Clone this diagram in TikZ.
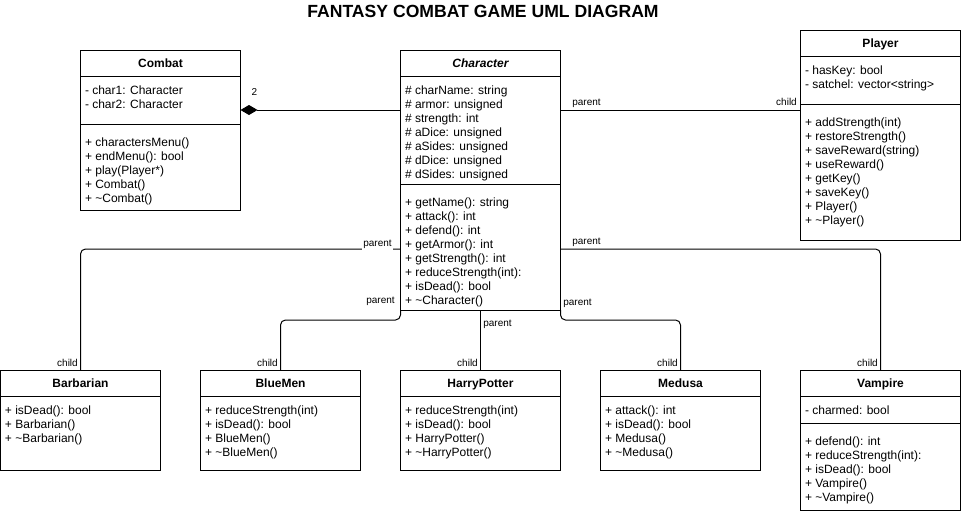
\documentclass[tikz,border=0pt]{standalone}
\usepackage{fontspec}
\setmainfont{Liberation Sans}
\usetikzlibrary{arrows.meta}
\newcommand\UMLsep[2]{\draw ([yshift=-#2pt]#1.north west) -- ([yshift=-#2pt]#1.north east);}
\begin{document}
\begin{tikzpicture}[x=1pt,y=-1pt,line width=1pt,
  box/.style={draw, anchor=north west, inner sep=0pt, outer sep=0pt, minimum width=160pt},
  txt/.style={anchor=base west, inner sep=0pt, font=\fontsize{12}{14}\selectfont},
  hdr/.style={anchor=base, inner sep=0pt, font=\fontsize{12}{14}\selectfont\bfseries},
  lbl/.style={anchor=base, inner sep=1pt, font=\fontsize{10}{12}\selectfont},
  edge/.style={draw, rounded corners=5pt}]
\useasboundingbox (-0.5,0) rectangle (960.5,514);

\node[anchor=base, inner sep=0pt, font=\fontsize{17.6}{20}\selectfont\bfseries] (title) at (482.5,17) {FANTASY COMBAT GAME UML DIAGRAM};

% Combat
\node[box, minimum height=160pt] (combat) at (80,50) {};
\UMLsep{combat}{26}\UMLsep{combat}{74}
\node[hdr] (combatT) at (160,67.3) {Combat};
\foreach \t [count=\i from 0] in {- char1: Character, - char2: Character}
  \node[txt] at (84,{94.3+14*\i}) {\t};
\foreach \t [count=\i from 0] in {+ charactersMenu(), + endMenu(): bool, + play(Player*), + Combat(), + \textasciitilde Combat()}
  \node[txt] at (84,{146.3+14*\i}) {\t};

% Character
\node[box, minimum height=260pt] (character) at (400,50) {};
\UMLsep{character}{26}\UMLsep{character}{134}
\node[hdr, font=\fontsize{12}{14}\selectfont\bfseries\itshape] (characterT) at (480,67.3) {Character};
\foreach \t [count=\i from 0] in {\# charName: string, \# armor: unsigned, \# strength: int, \# aDice: unsigned, \# aSides: unsigned, \# dDice: unsigned, \# dSides: unsigned}
  \node[txt] at (404,{94.3+14*\i}) {\t};
\foreach \t [count=\i from 0] in {+ getName(): string, + attack(): int, + defend(): int, + getArmor(): int, + getStrength(): int, + reduceStrength(int):, + isDead(): bool, + \textasciitilde Character()}
  \node[txt] at (404,{206.3+14*\i}) {\t};

% Player
\node[box, minimum height=210pt] (player) at (800,30) {};
\UMLsep{player}{26}\UMLsep{player}{74}
\node[hdr] (playerT) at (880,47.3) {Player};
\foreach \t [count=\i from 0] in {- hasKey: bool, - satchel: vector<string>}
  \node[txt] at (804,{74.3+14*\i}) {\t};
\foreach \t [count=\i from 0] in {+ addStrength(int), + restoreStrength(), + saveReward(string), + useReward(), + getKey(), + saveKey(), + Player(), + \textasciitilde Player()}
  \node[txt] at (804,{126+14*\i}) {\t};

% Barbarian
\node[box, minimum height=100pt] (barbarian) at (0,370) {};
\UMLsep{barbarian}{26}
\node[hdr] at (80,387.3) {Barbarian};
\foreach \t [count=\i from 0] in {+ isDead(): bool, + Barbarian(), + \textasciitilde Barbarian()}
  \node[txt] at (4,{414.3+14*\i}) {\t};

% BlueMen
\node[box, minimum height=100pt] (bluemen) at (200,370) {};
\UMLsep{bluemen}{26}
\node[hdr] at (280,387.3) {BlueMen};
\foreach \t [count=\i from 0] in {+ reduceStrength(int), + isDead(): bool, + BlueMen(), + \textasciitilde BlueMen()}
  \node[txt] at (204,{414.3+14*\i}) {\t};

% HarryPotter
\node[box, minimum height=100pt] (harry) at (400,370) {};
\UMLsep{harry}{26}
\node[hdr] at (480,387.3) {HarryPotter};
\foreach \t [count=\i from 0] in {+ reduceStrength(int), + isDead(): bool, + HarryPotter(), + \textasciitilde HarryPotter()}
  \node[txt] at (404,{414.3+14*\i}) {\t};

% Medusa
\node[box, minimum height=100pt] (medusa) at (600,370) {};
\UMLsep{medusa}{26}
\node[hdr] at (680,387.3) {Medusa};
\foreach \t [count=\i from 0] in {+ attack(): int, + isDead(): bool, + Medusa(), + \textasciitilde Medusa()}
  \node[txt] at (604,{414.3+14*\i}) {\t};

% Vampire
\node[box, minimum height=140pt] (vampire) at (800,370) {};
\UMLsep{vampire}{26}\UMLsep{vampire}{53}
\node[hdr] at (880,387.3) {Vampire};
\node[txt] at (804,414.3) {- charmed: bool};
\foreach \t [count=\i from 0] in {+ defend(): int, + reduceStrength(int):, + isDead(): bool, + Vampire(), + \textasciitilde Vampire()}
  \node[txt] at (804,{445.3+14*\i}) {\t};

% connectors
\draw[{Diamond[length=17pt,width=10pt]}-] ([yshift=-60pt]combat.north east) -- ([yshift=-60pt]character.north west);
\node[lbl] at (254,95.6) {2};

\draw ([yshift=-60pt]character.north east) -- ([yshift=-80pt]player.north west);
\node[lbl] at (586,105.6) {parent};
\node[lbl] at (786,105.6) {child};

\draw[edge] ([yshift=-199pt]character.north west) -| (barbarian.north);
\node[lbl, fill=white] at (377,246.6) {parent};

\draw[edge] ([yshift=-199pt]character.north east) -| (vampire.north);
\node[lbl] at (586,244.6) {parent};

\draw[edge] (character.south west) -- ++(0,10) -| (bluemen.north);
\node[lbl] at (380,303.6) {parent};

\draw (character.south) -- (harry.north);
\node[lbl] at (497,326.6) {parent};

\draw[edge] (character.south east) -- ++(0,10) -| (medusa.north);
\node[lbl] at (577,305.6) {parent};

\foreach \x in {67,267,467,667,867}
  \node[lbl] at (\x,366.6) {child};
\end{tikzpicture}
\end{document}
